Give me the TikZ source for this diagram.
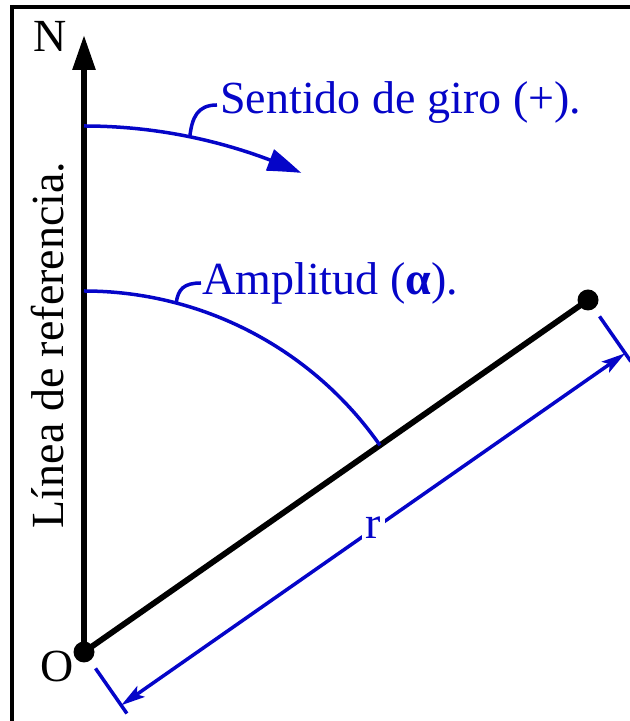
\documentclass[tikz,border=0pt]{standalone}
\usepackage{fontspec}
\setmainfont{Liberation Serif}
\usetikzlibrary{arrows.meta,bending,calc}
\definecolor{dimblue}{RGB}{5,5,200}
\begin{document}
\begin{tikzpicture}[x=0.5pt,y=0.5pt,
  every node/.style={font=\fontsize{23}{27}\selectfont},
  blk/.style={line width=2.9pt,black},
  blu/.style={line width=1.75pt,dimblue},
  frm/.style={line width=1.8pt,black},
  dot/.style={circle,fill=black,inner sep=0pt,minimum size=10.5pt},
  lbl/.style={inner sep=0pt,text=dimblue},
  dimtip/.style={-{Stealth[length=12pt,width=6.5pt,inset=2.5pt]}}
]
\useasboundingbox (0,0) rectangle (629,721);
% frame
\coordinate (F1) at (10,714);
\coordinate (F2) at (640,714);
\coordinate (F3) at (12,716);
\coordinate (F4) at (12,-5);
\draw[frm] (F1) -- (F2);
\draw[frm] (F3) -- (F4);

% main points
\node[dot] (O) at (84,69) {};
\node[dot] (P) at (588,421) {};
\coordinate (Ntip) at (84,686);
\node (Nl) at (50,685) {N};
\node (Ol) at (57,55) {O};

% reference line with arrow
\draw[blk,-{Triangle[length=17.5pt,width=11pt]}] (O.center) -- (Ntip);
% radius line
\draw[blk] (O.center) -- (P.center);

% vertical text
\node[rotate=90,anchor=base,inner sep=0pt] (ref) at (63,376) {Línea de referencia.};

% Sentido de giro arc
\coordinate (S0) at (84,595);
\draw[blu,-{Triangle[length=17pt,width=11pt,bend]}] (S0) arc[start angle=90,end angle=65.6,radius=263pt];
\coordinate (S1) at (189.8,584.3);
\node[lbl,anchor=base west] (sent) at (220,607) {Sentido de giro (+).};
\draw[blu] (S1) .. controls (192,603) and (197,616) .. (217,616);

% Amplitud arc
\coordinate (A0) at (84,430);
\draw[blu] (A0) arc[start angle=90,end angle=34.93,radius=180.5pt];
\coordinate (A1) at (176.2,418);
\node[lbl,anchor=base west] (ampl) at (202,426) {Amplitud (\textbf{α}).};
\draw[blu] (A1) .. controls (178,432) and (184,438) .. (201,438);

% dimension r
\coordinate (EO1) at (95.5,52.6);
\coordinate (EO2) at (126.9,7.5);
\coordinate (EP1) at (599.5,404.6);
\coordinate (EP2) at (630.9,359.5);
\coordinate (DA) at (121.2,15.7);
\coordinate (DB) at (625.2,367.7);
\draw[blu] (EO1) -- (EO2);
\draw[blu] (EP1) -- (EP2);
\draw[blu,dimtip] ($(DA)!0.5!(DB)$) coordinate (DM) -- (DB);
\draw[blu,dimtip] (DM) -- (DA);
\node[fill=white,inner sep=2pt,text=dimblue] (r) at (373.2,193) {r};
\end{tikzpicture}
\end{document}
